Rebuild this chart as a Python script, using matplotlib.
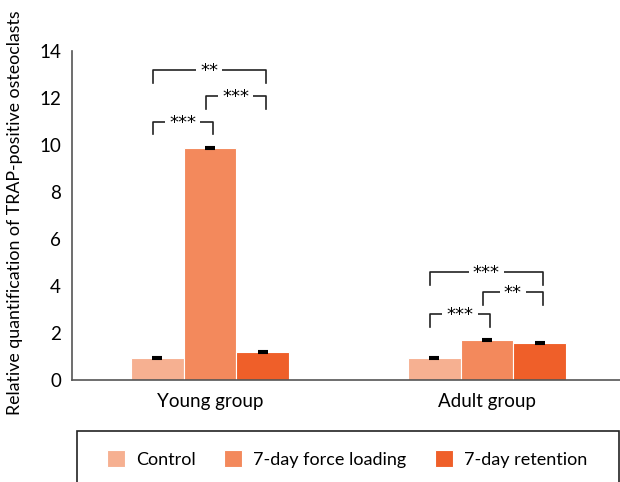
import matplotlib
matplotlib.use("Agg")
import matplotlib.pyplot as plt
from matplotlib.patches import Rectangle
import numpy as np

plt.rcParams['font.family'] = ['Lato', 'DejaVu Sans']

groups = ["Young group", "Adult group"]
series = ["Control", "7-day force loading", "7-day retention"]
values = {
    "Control": [0.94, 0.94],
    "7-day force loading": [9.87, 1.70],
    "7-day retention": [1.19, 1.57],
}
errors = {
    "Control": [0.04, 0.04],
    "7-day force loading": [0.04, 0.04],
    "7-day retention": [0.05, 0.03],
}
colors = ["#F6B091", "#F3895C", "#EF5F29"]
yticks = [0, 2, 4, 6, 8, 10, 12, 14]

# significance: (group, bar_i, bar_j, y, label)
sig = [
    (0, 0, 1, 11.0, "***"),
    (0, 1, 2, 12.1, "***"),
    (0, 0, 2, 13.2, "**"),
    (1, 0, 1, 2.8, "***"),
    (1, 1, 2, 3.75, "**"),
    (1, 0, 2, 4.6, "***"),
]

FS = 13.5

fig = plt.figure(figsize=(6.2, 4.82), dpi=100)
ax = fig.add_axes([72/620, 1-380/482, 548/620, 329/482])

x = np.arange(len(groups))
w = 0.191
offsets = [-w, 0, w]
for i, s in enumerate(series):
    ax.bar(x + offsets[i], values[s], width=w, color=colors[i],
           edgecolor="white", linewidth=0.8, label=s, zorder=2)
    ax.errorbar(x + offsets[i], values[s], yerr=errors[s], fmt='none',
                ecolor='black', elinewidth=1, capsize=3.5, capthick=1.5, zorder=3)

leg_h = 0.55
for g, i, j, y, lab in sig:
    x1 = x[g] + offsets[i] - 0.015
    x2 = x[g] + offsets[j] + 0.01
    ax.plot([x1, x1, x2, x2], [y - leg_h, y, y, y - leg_h], color='#222222',
            lw=1.2, zorder=4)
    ax.text((x1 + x2) / 2, y - 0.05, lab, ha='center', va='center', fontsize=13,
            family='DejaVu Sans', zorder=5,
            bbox=dict(facecolor='white', edgecolor='none', pad=3))

ax.set_xlim(-0.498, 1.480)
ax.set_ylim(0, 14)
ax.set_yticks(yticks)
ax.set_yticklabels([str(t) for t in yticks])
ax.set_xticks(x)
ax.set_xticklabels(groups)
ax.tick_params(axis='both', length=0, labelsize=FS, pad=8)
ax.tick_params(axis='x', pad=9)
for sp in ['top', 'right']:
    ax.spines[sp].set_visible(False)
for sp in ['left', 'bottom']:
    ax.spines[sp].set_color('#555555')
    ax.spines[sp].set_linewidth(1.2)

fig.text(15/620, 1 - 213/482, "Relative quantification of TRAP-positive osteoclasts",
         rotation=90, ha='center', va='center', fontsize=12.8)

# legend frame
fig.patches.append(Rectangle((77/620, -0.02), 542/620, (482-431)/482 + 0.02,
                             transform=fig.transFigure, fill=False,
                             edgecolor='#222222', linewidth=1.2))
handles, labels = ax.get_legend_handles_labels()
fig.legend(handles, labels, ncol=3, loc='center', bbox_to_anchor=(0.56, 1 - 459/482),
           frameon=False, fontsize=13, handlelength=1.0, handleheight=1.0,
           columnspacing=1.6, handletextpad=0.6)

fig.savefig("out.png", dpi=100)
